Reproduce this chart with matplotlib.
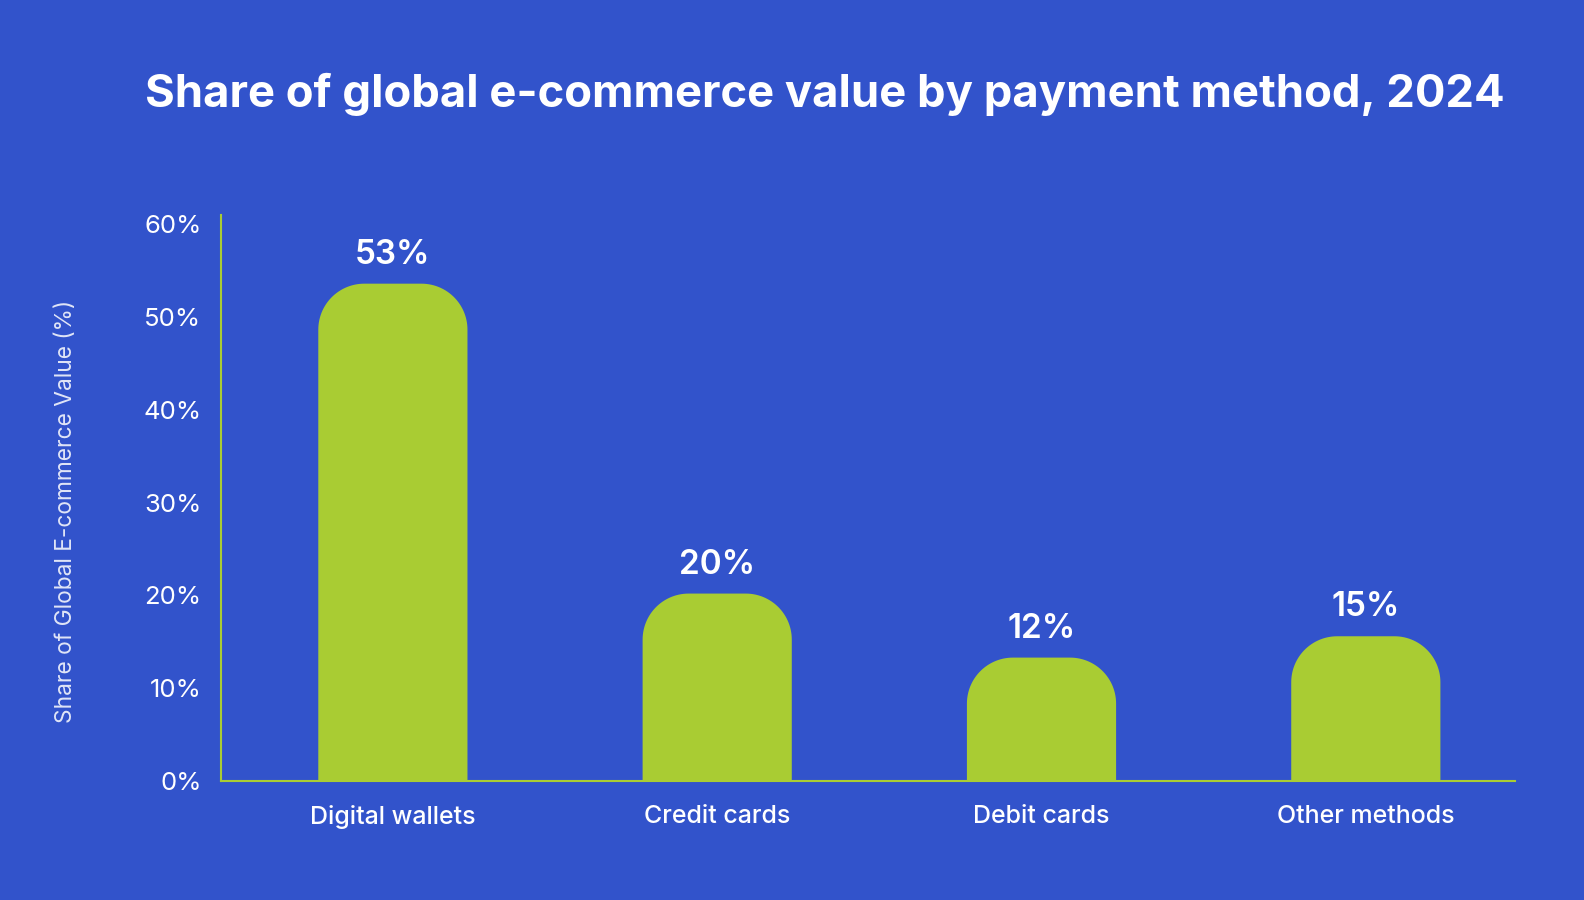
import numpy as np
import matplotlib.pyplot as plt
from matplotlib.patches import Polygon

# data
categories = ['Digital wallets', 'Credit cards', 'Debit cards', 'Other methods']
shares = [53.6, 20.2, 13.3, 15.6]          # bar heights (%)
share_labels = ['53%', '20%', '12%', '15%']  # printed labels
yticks = [0, 10, 20, 30, 40, 50, 60]

bg = '#3253CB'
green = '#A9CC33'
plt.rcParams['font.family'] = ['Inter', 'DejaVu Sans']

W, H = 1584, 900
fig = plt.figure(figsize=(15.84, 9), dpi=100, facecolor=bg)
ax = fig.add_axes([221/W, 1 - 781/H, (1515-221)/W, (781-215)/H])
ax.set_facecolor(bg)

x = np.arange(len(categories))
width = 0.46
ax.set_xlim(-0.530, 3.46)
ax.set_ylim(0, 61)

# rounded-top bars, radius ~46 px in both directions
px_x = (ax.get_xlim()[1] - ax.get_xlim()[0]) / (1515 - 221)
px_y = 61 / (781 - 215)
rx, ry = 46 * px_x, 46 * px_y
t = np.linspace(0, np.pi / 2, 30)
for xi, h in zip(x, shares):
    l, r = xi - width / 2, xi + width / 2
    right_arc = np.column_stack([r - rx + rx * np.cos(t), h - ry + ry * np.sin(t)])
    left_arc = np.column_stack([l + rx - rx * np.cos(t[::-1]), h - ry + ry * np.sin(t[::-1])])
    pts = np.vstack([[l, 0], [r, 0], right_arc, left_arc])
    ax.add_patch(Polygon(pts, closed=True, facecolor=green, edgecolor='none', zorder=2))

for xi, h, lab in zip(x, shares, share_labels):
    ax.text(xi, h + 1.4, lab, ha='center', va='bottom', color='white',
            fontsize=24, fontweight='semibold')

ax.set_xticks(x)
ax.set_xticklabels(categories, fontsize=18, color='white', fontweight='medium')
ax.set_yticks(yticks)
ax.set_yticklabels([f'{v}%' for v in yticks], fontsize=18.5, color='white')
ax.tick_params(length=0, pad=14)
ax.tick_params(axis='x', pad=17)

for s in ['top', 'right']:
    ax.spines[s].set_visible(False)
for s in ['left', 'bottom']:
    ax.spines[s].set_color(green)
    ax.spines[s].set_linewidth(1.5)

fig.text(66/W, 1 - 511/H, 'Share of Global E-commerce Value (%)', rotation=90,
         ha='center', va='center', fontsize=16.4, color='white', alpha=0.85)
fig.text(825/W, 1 - 94/H, 'Share of global e-commerce value by payment method, 2024',
         ha='center', va='center', fontsize=32.7, fontweight='bold', color='white')

plt.savefig('out.png', facecolor=bg)
